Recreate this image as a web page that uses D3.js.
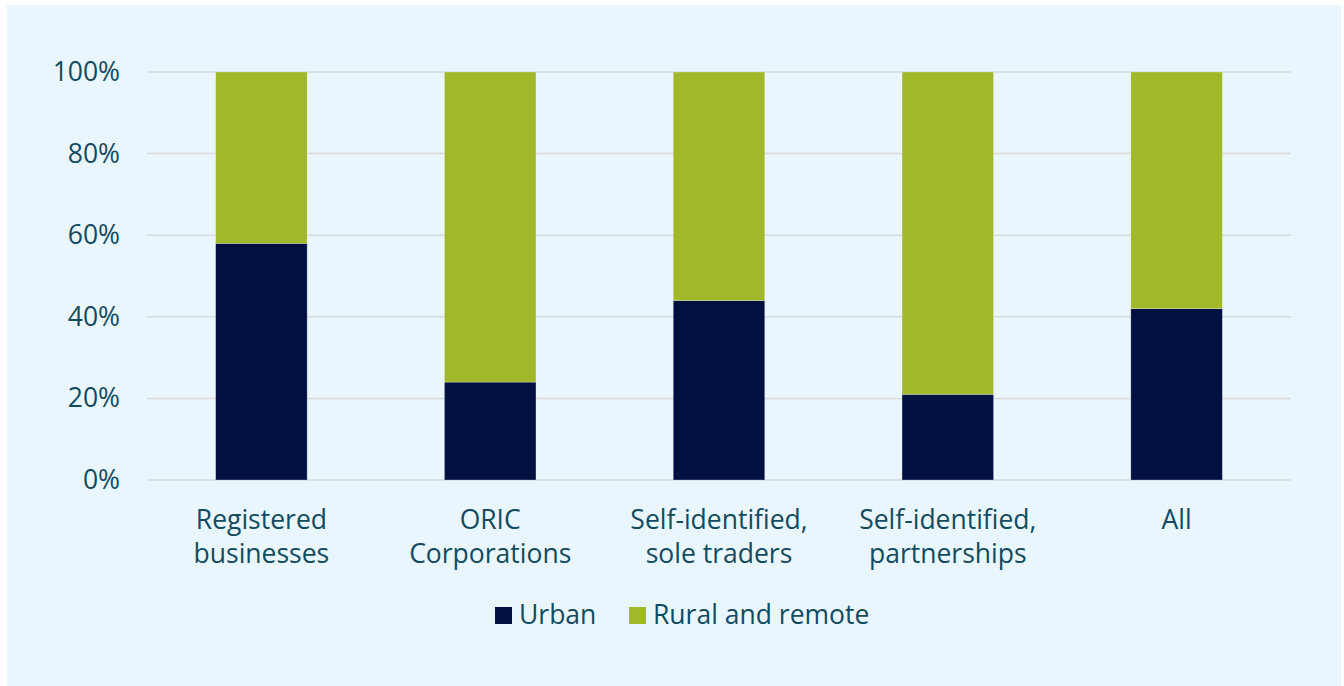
<!DOCTYPE html>
<html>
<head>
<meta charset="utf-8">
<script src="https://cdn.jsdelivr.net/npm/d3@7"></script>
<style>
  html, body { margin: 0; padding: 0; background: #ffffff; }
  svg { display: block; font-family: "Open Sans", sans-serif; }
</style>
</head>
<body>
<svg id="chart" width="1344" height="686"></svg>
<script>
// Share of Indigenous businesses by location
const categories = [
  ["Registered", "businesses"],
  ["ORIC", "Corporations"],
  ["Self-identified,", "sole traders"],
  ["Self-identified,", "partnerships"],
  ["All"]
];
const seriesNames = ["Urban", "Rural and remote"];
const urban = [58, 24, 44, 21, 42];
const rural = [42, 76, 56, 79, 58];
const yTicks = [0, 20, 40, 60, 80, 100];
const colors = ["#001141", "#a1b829"];
const textColor = "#124b60";

const svg = d3.select("#chart");

// panel background
svg.append("rect")
  .attr("x", 7).attr("y", 5)
  .attr("width", 1334).attr("height", 681)
  .attr("fill", "#eaf6fd");

const plotLeft = 147, plotRight = 1291, plotTop = 72, plotBottom = 480;

const x = d3.scaleBand()
  .domain(d3.range(categories.length))
  .range([plotLeft, plotRight])
  .paddingInner(0.6)
  .paddingOuter(0.3);

const y = d3.scaleLinear().domain([0, 100]).range([plotBottom, plotTop]);

// gridlines
svg.append("g")
  .selectAll("line")
  .data(yTicks)
  .join("line")
  .attr("x1", plotLeft).attr("x2", plotRight)
  .attr("y1", d => y(d)).attr("y2", d => y(d))
  .attr("stroke", "#d9d9d9")
  .attr("stroke-width", 1.5);

// y axis labels
const yAxis = d3.axisLeft(y).tickValues(yTicks).tickFormat(d => d + "%").tickSize(0).tickPadding(0);
const gy = svg.append("g").attr("transform", `translate(${plotLeft - 27},0)`).call(yAxis);
gy.select(".domain").remove();
gy.selectAll("text")
  .attr("fill", textColor)
  .style("font-size", "26.5px")
  .style("font-family", "'Open Sans', sans-serif");

// stacked bars
const rows = categories.map((c, i) => ({ i, Urban: urban[i], "Rural and remote": rural[i] }));
const stacked = d3.stack().keys(seriesNames)(rows);

svg.append("g")
  .selectAll("g")
  .data(stacked)
  .join("g")
  .attr("fill", (d, k) => colors[k])
  .selectAll("rect")
  .data(d => d)
  .join("rect")
  .attr("x", d => x(d.data.i))
  .attr("width", x.bandwidth())
  .attr("y", d => y(d[1]))
  .attr("height", d => y(d[0]) - y(d[1]))
  .attr("stroke", "rgba(255,255,255,0.35)")
  .attr("stroke-width", 0.75);

// category labels
const gx = svg.append("g");
categories.forEach((lines, i) => {
  const t = gx.append("text")
    .attr("x", x(i) + x.bandwidth() / 2)
    .attr("y", 529)
    .attr("text-anchor", "middle")
    .attr("fill", textColor)
    .style("font-size", "26.5px");
  lines.forEach((ln, j) => {
    t.append("tspan")
      .attr("x", x(i) + x.bandwidth() / 2)
      .attr("dy", j === 0 ? 0 : 34)
      .text(ln);
  });
});

// legend
const legendItems = [
  { name: seriesNames[0], color: colors[0], x: 495 },
  { name: seriesNames[1], color: colors[1], x: 629 }
];
const lg = svg.append("g");
legendItems.forEach(item => {
  lg.append("rect")
    .attr("x", item.x).attr("y", 607)
    .attr("width", 17).attr("height", 17)
    .attr("fill", item.color);
  lg.append("text")
    .attr("x", item.x + 24).attr("y", 624)
    .attr("fill", textColor)
    .style("font-size", "26.5px")
    .text(item.name);
});
</script>
</body>
</html>
